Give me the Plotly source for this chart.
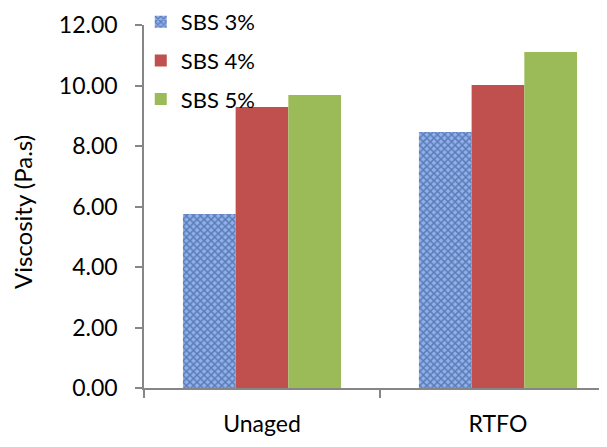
import plotly.graph_objects as go

categories = ["Unaged", "RTFO"]
series_names = ["SBS 3%", "SBS 4%", "SBS 5%"]
sbs3 = [5.75, 8.46]
sbs4 = [9.29, 10.02]
sbs5 = [9.69, 11.11]
y_ticks = [0, 2, 4, 6, 8, 10, 12]
y_title = "Viscosity (Pa.s)"

FONT = "Lato, 'Liberation Sans', Arial, sans-serif"

fig = go.Figure()
fig.add_trace(go.Bar(
    x=categories, y=sbs3, name=series_names[0], legendgroup="a",
    marker=dict(color="#8fb0e8", line=dict(width=0),
                pattern=dict(shape="x", fgcolor="#284889", size=5, solidity=0.5)),
))
fig.add_trace(go.Bar(
    x=categories, y=sbs4, name=series_names[1], legendgroup="b",
    marker=dict(color="#C0504D", line=dict(width=0)),
))
fig.add_trace(go.Bar(
    x=categories, y=sbs5, name=series_names[2], legendgroup="c",
    marker=dict(color="#9BBB59", line=dict(width=0)),
))

# page body has an 8px margin, so the figure is sized/offset to compensate
fig.update_layout(
    width=599, height=439,
    margin=dict(l=136, r=0, t=17, b=59, autoexpand=False),
    paper_bgcolor="white", plot_bgcolor="white",
    font=dict(family=FONT, size=23, color="#000000"),
    barmode="group", bargap=0.33, bargroupgap=0,
    legend=dict(x=-0.007, y=1.066, xanchor="left", yanchor="top",
                font=dict(size=22), traceorder="grouped", tracegroupgap=7,
                bgcolor="rgba(0,0,0,0)"),
    xaxis=dict(range=[-0.5, 1.462], showline=True, linecolor="#868686", linewidth=1.5,
               ticks="outside", tickson="boundaries", ticklen=8, tickcolor="#868686",
               tickwidth=1.5, showgrid=False, ticklabelstandoff=15,
               tickfont=dict(size=23), automargin=False),
    yaxis=dict(range=[0, 12], tickvals=y_ticks, tickformat=".2f", showline=True,
               linecolor="#868686", linewidth=1.5, ticks="outside", ticklen=7,
               tickcolor="#868686", tickwidth=1.5, showgrid=False, zeroline=False,
               ticklabelstandoff=13, tickfont=dict(size=23), automargin=False),
    annotations=[dict(text=y_title, xref="paper", yref="paper", x=-0.261, y=0.485,
                      xanchor="center", yanchor="middle", textangle=-90,
                      showarrow=False, font=dict(size=24))],
)

fig.write_html("out.html")
